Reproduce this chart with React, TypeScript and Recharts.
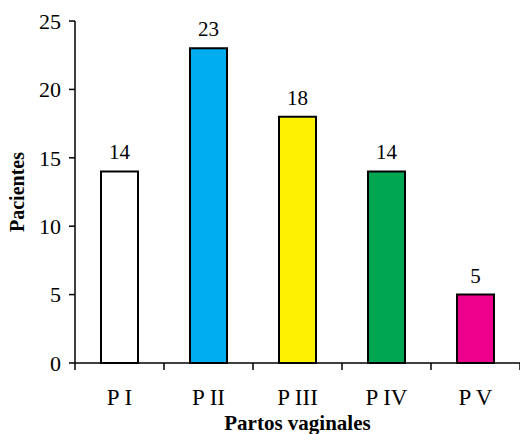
import React from "react";
import { BarChart, Bar, XAxis, YAxis, Cell, LabelList } from "recharts";

const categories = ["P I", "P II", "P III", "P IV", "P V"];
const pacientes = [14, 23, 18, 14, 5];
const barColors = ["#FFFFFF", "#00AEEF", "#FFF200", "#00A651", "#EC008C"];
const yTicks = [0, 5, 10, 15, 20, 25];

const FONT = "Liberation Serif, Times New Roman, DejaVu Serif, serif";

const chartData = categories.map((name, i) => ({ name, value: pacientes[i] }));

// category label, with the small tick marks drawn on the band edges instead of the centre
const CategoryTick = (props: any) => {
  const { x, y, payload, index, width, visibleTicksCount } = props;
  const count = visibleTicksCount || categories.length;
  const half = Number(width) > 0 ? Number(width) / count / 2 : 0;
  const axisY = y - 23;
  return (
    <g>
      {index === 0 && (
        <line x1={x - half} x2={x - half} y1={axisY} y2={axisY + 7} stroke="#000" strokeWidth={1.5} />
      )}
      <line x1={x + half} x2={x + half} y1={axisY} y2={axisY + 7} stroke="#000" strokeWidth={1.5} />
      <text x={x} y={y} dy={19} textAnchor="middle" fill="#000" fontSize={23} fontFamily={FONT}>
        {payload.value}
      </text>
    </g>
  );
};

export default function App() {
  return (
    <div
      style={{
        position: "absolute",
        left: 0,
        top: 0,
        width: 520,
        height: 434,
        background: "#fff",
        fontFamily: FONT,
      }}
    >
      <BarChart
        width={520}
        height={434}
        data={chartData}
        margin={{ top: 21, right: 0, left: 0, bottom: 0 }}
        barSize={37}
        style={{ fontFamily: FONT }}
      >
        <XAxis
          dataKey="name"
          height={71}
          tickLine={false}
          tickSize={0}
          tickMargin={23}
          interval={0}
          axisLine={{ stroke: "#000", strokeWidth: 1.5 }}
          tick={CategoryTick}
          label={{
            value: "Partos vaginales",
            position: "insideBottom",
            offset: 4,
            style: { fontSize: 21, fontWeight: "bold", fontFamily: FONT, fill: "#000" },
          }}
        />
        <YAxis
          width={75}
          domain={[0, 25]}
          ticks={yTicks}
          interval={0}
          tickSize={6}
          tickMargin={8}
          tickLine={{ stroke: "#000", strokeWidth: 1.5 }}
          axisLine={{ stroke: "#000", strokeWidth: 1.5 }}
          tick={{ fill: "#000", style: { fontSize: 22, fontFamily: FONT } }}
          label={{
            value: "Pacientes",
            angle: -90,
            position: "insideLeft",
            offset: 17,
            style: { textAnchor: "middle", fontSize: 20, fontWeight: "bold", fontFamily: FONT, fill: "#000" },
          }}
        />
        <Bar dataKey="value" stroke="#000" strokeWidth={2} isAnimationActive={false}>
          {chartData.map((d, i) => (
            <Cell key={d.name} fill={barColors[i]} />
          ))}
          <LabelList
            dataKey="value"
            position="top"
            offset={12}
            fill="#000"
            style={{ fontSize: 21, fontFamily: FONT }}
          />
        </Bar>
      </BarChart>
    </div>
  );
}
